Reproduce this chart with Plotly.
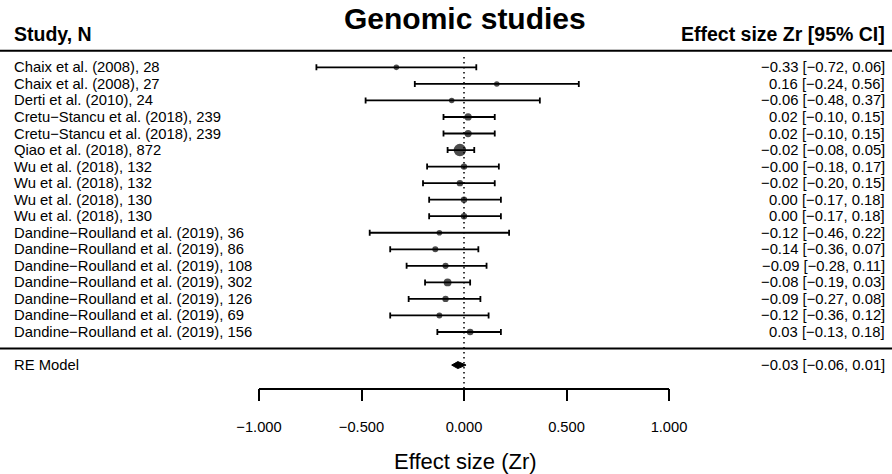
import plotly.graph_objects as go

# ---------------- data ----------------
studies = [
    "Chaix et al. (2008), 28", "Chaix et al. (2008), 27", "Derti et al. (2010), 24",
    "Cretu\u2212Stancu et al. (2018), 239", "Cretu\u2212Stancu et al. (2018), 239",
    "Qiao et al. (2018), 872", "Wu et al. (2018), 132", "Wu et al. (2018), 132",
    "Wu et al. (2018), 130", "Wu et al. (2018), 130",
    "Dandine\u2212Roulland et al. (2019), 36", "Dandine\u2212Roulland et al. (2019), 86",
    "Dandine\u2212Roulland et al. (2019), 108", "Dandine\u2212Roulland et al. (2019), 302",
    "Dandine\u2212Roulland et al. (2019), 126", "Dandine\u2212Roulland et al. (2019), 69",
    "Dandine\u2212Roulland et al. (2019), 156",
]
n = [28, 27, 24, 239, 239, 872, 132, 132, 130, 130, 36, 86, 108, 302, 126, 69, 156]
est = [-0.33, 0.16, -0.06, 0.02, 0.02, -0.02, -0.00, -0.02, 0.00, 0.00,
       -0.12, -0.14, -0.09, -0.08, -0.09, -0.12, 0.03]
lo = [-0.72, -0.24, -0.48, -0.10, -0.10, -0.08, -0.18, -0.20, -0.17, -0.17,
      -0.46, -0.36, -0.28, -0.19, -0.27, -0.36, -0.13]
hi = [0.06, 0.56, 0.37, 0.15, 0.15, 0.05, 0.17, 0.15, 0.18, 0.18,
      0.22, 0.07, 0.11, 0.03, 0.08, 0.12, 0.18]
ci_text = [
    "\u22120.33 [\u22120.72, 0.06]", "0.16 [\u22120.24, 0.56]", "\u22120.06 [\u22120.48, 0.37]",
    "0.02 [\u22120.10, 0.15]", "0.02 [\u22120.10, 0.15]", "\u22120.02 [\u22120.08, 0.05]",
    "\u22120.00 [\u22120.18, 0.17]", "\u22120.02 [\u22120.20, 0.15]", "0.00 [\u22120.17, 0.18]",
    "0.00 [\u22120.17, 0.18]", "\u22120.12 [\u22120.46, 0.22]", "\u22120.14 [\u22120.36, 0.07]",
    "\u22120.09 [\u22120.28, 0.11]", "\u22120.08 [\u22120.19, 0.03]", "\u22120.09 [\u22120.27, 0.08]",
    "\u22120.12 [\u22120.36, 0.12]", "0.03 [\u22120.13, 0.18]",
]
re_label = "RE Model"
re_est, re_lo, re_hi = -0.03, -0.06, 0.01
re_text = "\u22120.03 [\u22120.06, 0.01]"
tick_vals = [-1.0, -0.5, 0.0, 0.5, 1.0]
tick_text = ["\u22121.000", "\u22120.500", "0.000", "0.500", "1.000"]
title = "Genomic studies"
left_header = "Study, N"
right_header = "Effect size Zr [95% CI]"
x_title = "Effect size (Zr)"

# ---------------- layout geometry ----------------
W, H = 892, 474
FONT = "Liberation Sans, Arial, sans-serif"
k = len(studies)
rows = list(range(k, 0, -1))
re_row = -1
px_per_unit = 205.0
x0_px = 464.0
xr = [(0 - x0_px) / px_per_unit, (W - x0_px) / px_per_unit]
row1_px, row_h = 332.0, 16.54
yr = [1 - (H - row1_px) / row_h, 1 + row1_px / row_h]
axis_row = 1 - (388.5 - row1_px) / row_h

sizes = [5.5 + (v - min(n)) / (max(n) - min(n)) * 7.0 for v in n]

fig = go.Figure()

# reference dotted line
fig.add_trace(go.Scatter(x=[0, 0], y=[axis_row, k + 0.75], mode="lines",
                         line=dict(color="black", width=1.5, dash="1.5px,3.5px"),
                         hoverinfo="skip", showlegend=False))

# study estimates with CI
fig.add_trace(go.Scatter(
    x=est, y=rows, mode="markers",
    marker=dict(color="black", size=sizes, line=dict(width=0)),
    error_x=dict(type="data", symmetric=False,
                 array=[h - e for h, e in zip(hi, est)],
                 arrayminus=[e - l for e, l in zip(est, lo)],
                 color="black", thickness=1.8, width=3),
    showlegend=False, hoverinfo="skip"))

# RE diamond
dh = 0.21
fig.add_trace(go.Scatter(
    x=[re_lo, re_est, re_hi, re_est, re_lo],
    y=[re_row, re_row + dh, re_row, re_row - dh, re_row],
    mode="lines", fill="toself", fillcolor="black",
    line=dict(color="black", width=1), showlegend=False, hoverinfo="skip"))

# dummy trace for display axis
fig.add_trace(go.Scatter(x=[0], y=[re_row], xaxis="x2", mode="markers",
                         marker=dict(opacity=0), showlegend=False, hoverinfo="skip"))

# horizontal separator lines
for yv in [k + 1, 0]:
    fig.add_shape(type="line", xref="paper", yref="y", x0=0, x1=1, y0=yv, y1=yv,
                  line=dict(color="black", width=2))

# text annotations
FS = 14.8
ann = []
for r, s, t in zip(rows, studies, ci_text):
    ann.append(dict(x=12 / W, xref="paper", y=r, yref="y", text=s, showarrow=False,
                    xanchor="left", yanchor="middle", font=dict(size=FS)))
    ann.append(dict(x=887 / W, xref="paper", y=r, yref="y", text=t, showarrow=False,
                    xanchor="right", yanchor="middle", font=dict(size=FS)))
ann.append(dict(x=12 / W, xref="paper", y=re_row, yref="y", text=re_label, showarrow=False,
                xanchor="left", yanchor="middle", font=dict(size=FS)))
ann.append(dict(x=887 / W, xref="paper", y=re_row, yref="y", text=re_text, showarrow=False,
                xanchor="right", yanchor="middle", font=dict(size=FS)))
ann.append(dict(x=12 / W, xref="paper", y=k + 2, yref="y", text="<b>%s</b>" % left_header,
                showarrow=False, xanchor="left", yanchor="middle", font=dict(size=19.5)))
ann.append(dict(x=887 / W, xref="paper", y=k + 2, yref="y", text="<b>%s</b>" % right_header,
                showarrow=False, xanchor="right", yanchor="middle", font=dict(size=19.5)))
ann.append(dict(x=465 / W, xref="paper", y=1 - 19 / H, yref="paper", text="<b>%s</b>" % title,
                showarrow=False, xanchor="center", yanchor="middle", font=dict(size=30)))
ann.append(dict(x=465 / W, xref="paper", y=1 - 461 / H, yref="paper", text=x_title,
                showarrow=False, xanchor="center", yanchor="middle", font=dict(size=22)))

fig.update_layout(
    width=W, height=H, margin=dict(l=0, r=0, t=0, b=0, autoexpand=False),
    paper_bgcolor="white", plot_bgcolor="rgba(0,0,0,0)",
    font=dict(family=FONT, color="black"),
    xaxis=dict(range=xr, visible=False, fixedrange=True),
    xaxis2=dict(range=[-1, 1], domain=[259 / W, 669 / W], anchor="free",
                position=1 - 388.5 / H, showline=True, linecolor="black", linewidth=1.5,
                ticks="outside", ticklen=12, tickwidth=1.5, tickcolor="black",
                tickvals=tick_vals, ticktext=tick_text, showgrid=False, zeroline=False,
                tickfont=dict(size=14.7), ticklabelstandoff=13,
                fixedrange=True, automargin=False),
    yaxis=dict(range=yr, visible=False, fixedrange=True),
    annotations=ann,
)

fig.write_html("out.html", config={"displayModeBar": False},
               post_script="document.body.style.margin='0';document.body.style.overflow='hidden';")
